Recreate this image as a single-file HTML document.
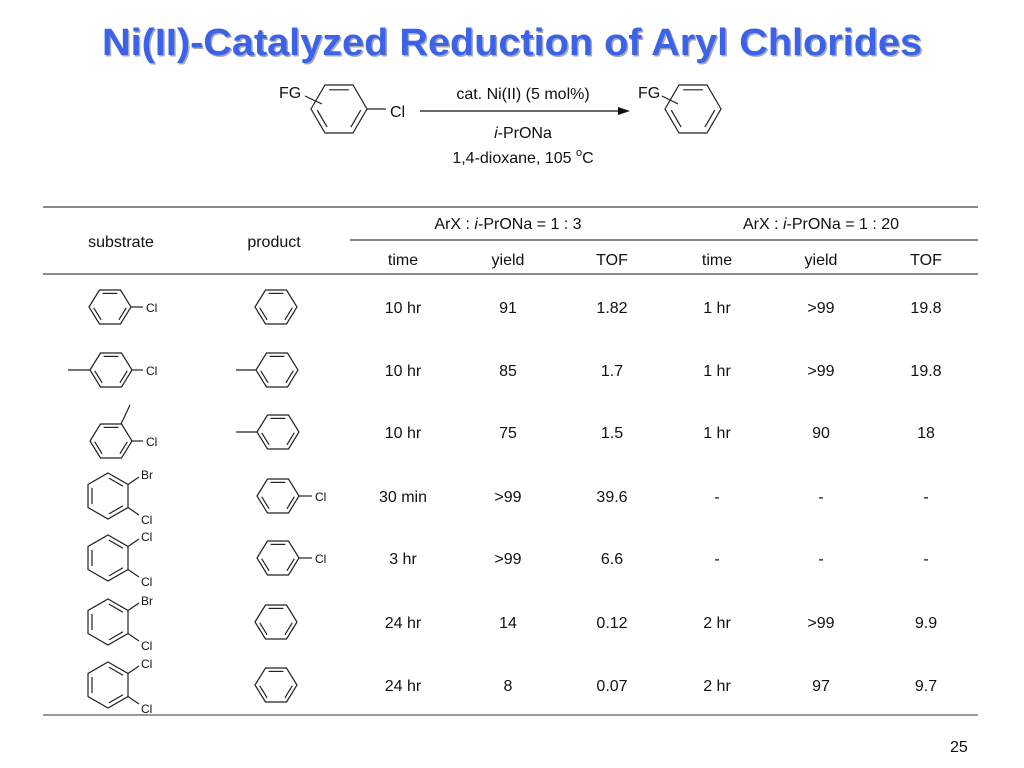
<!DOCTYPE html>
<html><head><meta charset="utf-8"><style>
html,body{margin:0;padding:0;background:#fff;}
svg{display:block;font-family:"Liberation Sans",Arial,sans-serif;}
</style></head><body>
<svg id="s" width="1024" height="768" viewBox="0 0 1024 768">
<text x="513.5" y="56.5" text-anchor="middle" font-size="38" font-weight="bold" fill="#aaa" textLength="820" lengthAdjust="spacingAndGlyphs">Ni(II)-Catalyzed Reduction of Aryl Chlorides</text>
<text x="512" y="55" text-anchor="middle" font-size="38" font-weight="bold" fill="#3a63ea" textLength="820" lengthAdjust="spacingAndGlyphs">Ni(II)-Catalyzed Reduction of Aryl Chlorides</text>
<g id="scheme" font-size="16" fill="#111">
<text x="279" y="98">FG</text>
<text x="390" y="117">Cl</text>
<line x1="420" y1="111" x2="622" y2="111" stroke="#111" stroke-width="1.3"/>
<polygon points="630,111 618,107 618,115" fill="#111"/>
<text x="523" y="99" text-anchor="middle">cat. Ni(II) (5 mol%)</text>
<text x="523" y="138" text-anchor="middle"><tspan font-style="italic">i</tspan>-PrONa</text>
<text x="523" y="163" text-anchor="middle">1,4-dioxane, 105 <tspan font-size="11" dy="-7">o</tspan><tspan dy="7">C</tspan></text>
<text x="638" y="98">FG</text>
</g>
<g stroke="#444">
<line x1="43" y1="207" x2="978" y2="207" stroke-width="1.2"/>
<line x1="350" y1="240" x2="978" y2="240" stroke-width="1.2"/>
<line x1="43" y1="274" x2="978" y2="274" stroke-width="1.2"/>
<line x1="43" y1="715" x2="978" y2="715" stroke="#999" stroke-width="2"/>
</g>
<g font-size="16" fill="#111" text-anchor="middle">
<text x="121" y="247">substrate</text>
<text x="274" y="247">product</text>
<text x="508" y="229">ArX : <tspan font-style="italic">i</tspan>-PrONa = 1 : 3</text>
<text x="821" y="229">ArX : <tspan font-style="italic">i</tspan>-PrONa = 1 : 20</text>
</g>
<g id="cols" font-size="16" fill="#111" text-anchor="middle"></g>
<g id="cells" font-size="16" fill="#111" text-anchor="middle"></g>
<g id="mols" stroke="#222" stroke-width="1.2" fill="none"></g>
<g id="mlabels" font-size="12" fill="#111"></g>
<text x="950" y="752" font-size="16" fill="#111">25</text>
</svg>
<script>
const colHeads=["time","yield","TOF","time","yield","TOF"];
const times3=["10 hr","10 hr","10 hr","30 min","3 hr","24 hr","24 hr"];
const yields3=["91","85","75",">99",">99","14","8"];
const tof3=["1.82","1.7","1.5","39.6","6.6","0.12","0.07"];
const times20=["1 hr","1 hr","1 hr","-","-","2 hr","2 hr"];
const yields20=[">99",">99","90","-","-",">99","97"];
const tof20=["19.8","19.8","18","-","-","9.9","9.7"];
const colX=[403,508,612,717,821,926];
const rowY=[307,370,432,496,558,622,685];
const NS="http://www.w3.org/2000/svg";
function mk(tag,attrs,parent){const e=document.createElementNS(NS,tag);for(const k in attrs)e.setAttribute(k,attrs[k]);parent.appendChild(e);return e;}
const cols=document.getElementById('cols');
colHeads.forEach((h,i)=>{const t=mk('text',{x:colX[i],y:265},cols);t.textContent=h;

});
const cells=document.getElementById('cells');
const series=[times3,yields3,tof3,times20,yields20,tof20];
series.forEach((arr,c)=>arr.forEach((v,r)=>{const t=mk('text',{x:colX[c],y:rowY[r]+6},cells);t.textContent=v;

}));
const mols=document.getElementById('mols'),ml=document.getElementById('mlabels');
function line(a,b,c,d){mk('line',{x1:a,y1:b,x2:c,y2:d},mols);}
function lab(x,y,s,size){const t=mk('text',{x:x,y:y},ml);t.textContent=s;if(size)t.setAttribute('font-size',size);return t;}
function ringF(cx,cy,r,h){const p=[[cx-r,cy],[cx-r/2,cy-h],[cx+r/2,cy-h],[cx+r,cy],[cx+r/2,cy+h],[cx-r/2,cy+h]];
mk('polygon',{points:p.map(q=>q.join(',')).join(' ')},mols);
inner(p,cx,cy,[[1,2],[3,4],[5,0]]);return p;}
function inner(p,cx,cy,pairs){pairs.forEach(([a,b])=>{const A=p[a],B=p[b];const s=0.8;
const f=(q)=>[cx+(q[0]-cx)*s,cy+(q[1]-cy)*s];const a2=f(A),b2=f(B);
const dx=b2[0]-a2[0],dy=b2[1]-a2[1];
line(a2[0]+dx*0.06,a2[1]+dy*0.06,b2[0]-dx*0.06,b2[1]-dy*0.06);});}
function ringP(cx,cy,r,w){const p=[[cx,cy-r],[cx+w,cy-r/2],[cx+w,cy+r/2],[cx,cy+r],[cx-w,cy+r/2],[cx-w,cy-r/2]];
mk('polygon',{points:p.map(q=>q.join(',')).join(' ')},mols);inner(p,cx,cy,[[0,1],[2,3],[4,5]]);return p;}
let p=ringF(339,109,28,24);line(305,96,322,104);line(367,109,386,109);
ringF(693,109,28,24);line(662,96,678,104);
const R=21,H=17;
p=ringF(110,rowY[0],R,H);line(131,307,143,307);lab(146,312,'Cl');
ringF(276,rowY[0],R,H);
p=ringF(111,rowY[1],R,H);line(68,370,90,370);line(132,370,143,370);lab(146,375,'Cl');
ringF(277,rowY[1],R,H);line(236,370,256,370);
p=ringF(111,441,R,H);line(121,424,130,405);line(132,441,143,441);lab(146,446,'Cl');
ringF(278,432,R,H);line(236,432,257,432);
function ortho(cy,top,bot){ringP(108,cy,23,20);line(128,cy-11.5,139,cy-19);line(128,cy+11.5,139,cy+19);
lab(141,cy-17,top);lab(141,cy+28,bot);}
ortho(496,'Br','Cl');ortho(558,'Cl','Cl');ortho(622,'Br','Cl');ortho(685,'Cl','Cl');
ringF(278,496,R,H);line(299,496,312,496);lab(315,501,'Cl');
ringF(278,558,R,H);line(299,558,312,558);lab(315,563,'Cl');
ringF(276,622,R,H);ringF(276,685,R,H);


</script>
</body></html>
